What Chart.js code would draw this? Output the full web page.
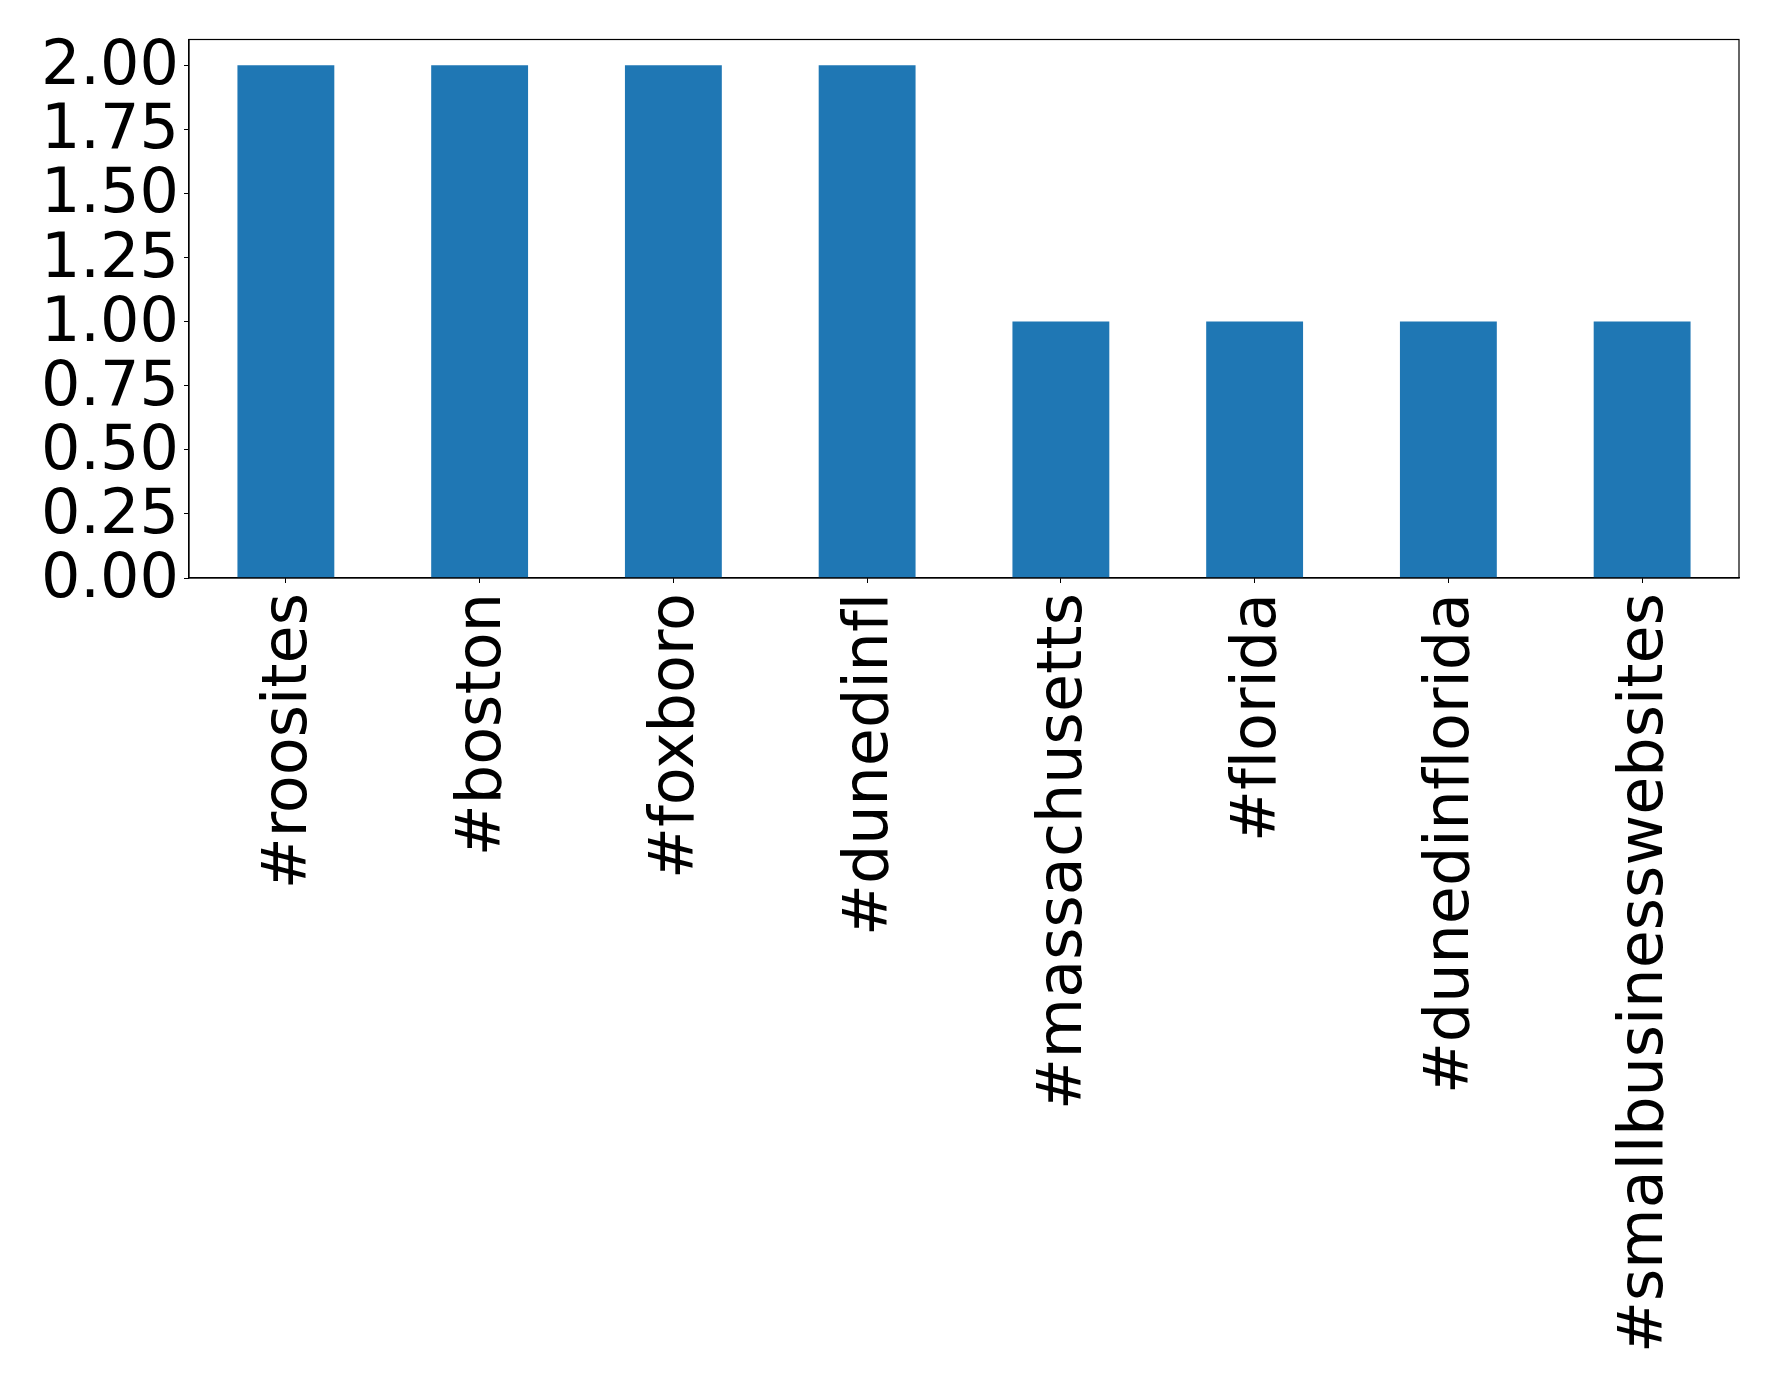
<!DOCTYPE html>
<html>
<head>
<meta charset="utf-8">
<script src="https://cdn.jsdelivr.net/npm/chart.js@4.4.0/dist/chart.umd.min.js"></script>
<style>
html,body{margin:0;padding:0;background:#fff;}
#wrap{width:1778px;height:1393px;position:relative;}
</style>
</head>
<body>
<div id="wrap"><canvas id="c"></canvas></div>
<script>
const categories = ["#roosites","#boston","#foxboro","#dunedinfl","#massachusetts","#florida","#dunedinflorida","#smallbusinesswebsites"];
const counts = [2,2,2,2,1,1,1,1];
const yTicks = [0,0.25,0.5,0.75,1.0,1.25,1.5,1.75,2.0];

const noLigatures = {
  id:'noLigatures',
  beforeInit(chart){ try{ chart.ctx.letterSpacing = '0.01px'; }catch(e){} },
  beforeDraw(chart){ try{ chart.ctx.letterSpacing = '0.01px'; }catch(e){} }
};

const frame = {
  id:'frame',
  afterDraw(chart){
    const a = chart.chartArea, ctx = chart.ctx;
    ctx.save();
    ctx.strokeStyle = '#000';
    ctx.lineWidth = 1.2;
    ctx.strokeRect(a.left, a.top, a.right - a.left, a.bottom - a.top);
    ctx.restore();
  }
};

new Chart(document.getElementById('c'), {
  type:'bar',
  data:{labels:categories, datasets:[{data:counts, backgroundColor:'#1f77b4', borderWidth:0, categoryPercentage:1, barPercentage:0.5}]},
  options:{
    responsive:true, maintainAspectRatio:false, animation:false,
    layout:{padding:{top:39.5,right:39,left:0,bottom:0}},
    plugins:{legend:{display:false}, tooltip:{enabled:false}},
    scales:{
      x:{
        grid:{display:true, offset:false, drawOnChartArea:false, drawTicks:true, tickLength:5, tickColor:'#000'},
        border:{display:true,color:'#000',width:1.2},
        ticks:{color:'#000', font:{family:'DejaVu Sans', size:62}, maxRotation:90, minRotation:90, autoSkip:false, padding:10, labelOffset:4},
        afterFit(s){ s.height = 815; s.paddingLeft = 0; s.paddingRight = 0; }
      },
      y:{
        min:0, max:2.1,
        grid:{display:true, drawOnChartArea:false, drawTicks:true, tickLength:5, tickColor:'#000'},
        border:{display:true,color:'#000',width:1.2},
        afterBuildTicks(s){ s.ticks = yTicks.map(v=>({value:v})); },
        ticks:{color:'#000', font:{family:'DejaVu Sans', size:62}, padding:5, autoSkip:false, labelOffset:3, callback:(v)=>Number(v).toFixed(2)},
        afterFit(s){ s.width = 189; s.paddingTop = 0; s.paddingBottom = 0; }
      }
    }
  },
  plugins:[noLigatures, frame]
});
</script>
</body>
</html>
